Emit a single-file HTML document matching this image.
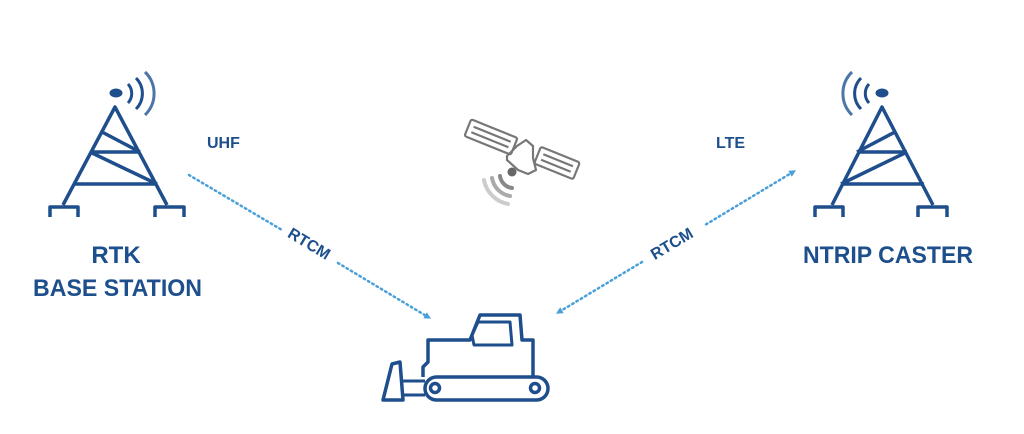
<!DOCTYPE html>
<html><head><meta charset="utf-8"><style>
html,body{margin:0;padding:0;background:#fff;}
svg{display:block;}
text{font-family:"Liberation Sans",sans-serif;font-weight:bold;fill:#1d4f8c;}
</style></head><body>
<svg width="1024" height="434" viewBox="0 0 1024 434" xmlns="http://www.w3.org/2000/svg">
<defs>
<marker id="ah" viewBox="0 0 10 10" refX="5" refY="5" markerWidth="7" markerHeight="7" orient="auto-start-reverse" markerUnits="userSpaceOnUse">
<path d="M0,0 L10,5 L0,10 z" fill="#4a9fd8"/></marker>
</defs>
<!-- left tower -->
<g fill="none" stroke="#1e4e8c" stroke-width="3.5" stroke-linejoin="round">
<path d="M63,205 L115,107 L167,205"/>
<path d="M90,152 L140,152 M73,184 L157,184 M102,132 L140,152 M90,152 L157,184"/>
<path d="M50,217 L50,207 L78,207 L78,217 M155,217 L155,207 L184,207 L184,217"/>
<path d="M128,84 A14,14 0 0 1 128,103 M136,78 A22,22 0 0 1 136,109" stroke-width="3"/>
<path d="M145,72 A30,30 0 0 1 145,115" stroke="#4d76a8" stroke-width="3"/>
</g>
<ellipse cx="116" cy="93" rx="6.5" ry="4.5" fill="#1e4e8c"/>
<!-- right tower -->
<g fill="none" stroke="#1e4e8c" stroke-width="3.5" stroke-linejoin="round">
<path d="M832,205 L882,107 L933,205"/>
<path d="M857,152 L907,152 M841,184 L924,184 M895,132 L857,152 M907,152 L841,184"/>
<path d="M815,217 L815,207 L843,207 L843,217 M918,217 L918,207 L947,207 L947,217"/>
<path d="M869,84 A14,14 0 0 0 869,103 M861,78 A22,22 0 0 0 861,109" stroke-width="3"/>
<path d="M852,72 A30,30 0 0 0 852,115" stroke="#4d76a8" stroke-width="3"/>
</g>
<ellipse cx="882" cy="93" rx="6.5" ry="4.5" fill="#1e4e8c"/>
<!-- satellite -->
<g fill="none" stroke="#777" stroke-width="2.2" stroke-linejoin="round">
<g transform="translate(491,137) rotate(22)">
<rect x="-25" y="-9" width="50" height="18" rx="2"/>
<path d="M-20,-3 L20,-3 M-20,3 L20,3"/></g>
<g transform="translate(557,163) rotate(22)">
<rect x="-21" y="-9" width="42" height="18" rx="2"/>
<path d="M-16,-3 L16,-3 M-16,3 L16,3"/></g>
<path d="M507,156 L517,146 L526,140 L533,146 L533,158 L536,170 L528,174 L518,170 L507,160 z"/>
</g>
<circle cx="512" cy="172" r="4.5" fill="#666"/>
<g fill="none" stroke-linecap="round" stroke-width="4">
<path d="M500,176 A14,14 0 0 0 512,188" stroke="#888"/>
<path d="M492,178 A22,22 0 0 0 510,196" stroke="#aaa"/>
<path d="M484,180 A30,30 0 0 0 508,204" stroke="#ccc"/>
</g>
<!-- dotted lines -->
<g stroke="#4a9fd8" stroke-width="2.5" stroke-dasharray="1.5 3.5" stroke-linecap="round" fill="none">
<path d="M189,175 L282,230"/>
<path d="M338,263 L428,317" marker-end="url(#ah)"/>
<path d="M793,172 L705,225" marker-start="url(#ah)"/>
<path d="M642,262 L559,312" marker-end="url(#ah)"/>
</g>
<text x="309" y="249" font-size="16" text-anchor="middle" transform="rotate(31 309 244)">RTCM</text>
<text x="672" y="249" font-size="16" text-anchor="middle" transform="rotate(-31 672 244)">RTCM</text>
<text x="207" y="148" font-size="16">UHF</text>
<text x="716" y="148" font-size="16">LTE</text>
<text x="116" y="263" font-size="24" text-anchor="middle">RTK</text>
<text x="33" y="296" font-size="24" textLength="169" lengthAdjust="spacingAndGlyphs">BASE STATION</text>
<text x="803" y="263" font-size="24" textLength="170" lengthAdjust="spacingAndGlyphs">NTRIP CASTER</text>
<!-- bulldozer -->
<g fill="none" stroke="#1e4e8c" stroke-width="3.5" stroke-linejoin="round">
<rect x="425" y="377" width="123" height="23" rx="11.5"/>
<circle cx="435" cy="388" r="4.5"/><circle cx="535" cy="388" r="4.5"/>
<path d="M423,377 L423,367 L428,362 L428,340 L470,340 L480,315 L520,315 L522,340 L533,340 L533,377"/>
<path d="M478,322 L510,322 L512,345 L474,345 L472,335 z" stroke-width="3"/>
<path d="M383,400 L392,364 L400,362 L403,400 z"/>
<path d="M403,381 L425,381 M403,395 L425,395" stroke-width="3"/>
</g>
</svg>
</body></html>
